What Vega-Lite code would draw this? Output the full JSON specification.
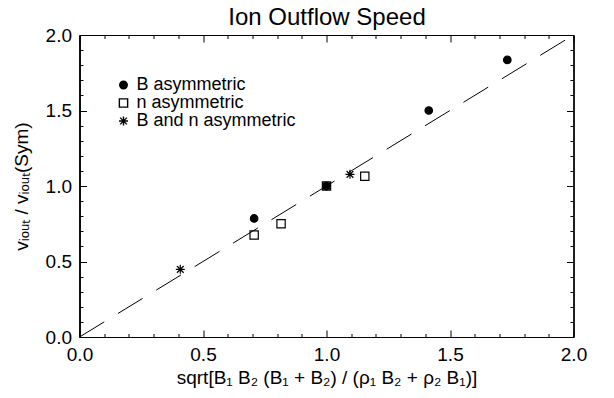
{
  "$schema": "https://vega.github.io/schema/vega-lite/v6.json",
  "width": 494,
  "height": 302,
  "autosize": {"type": "none"},
  "padding": {"left": 79.5, "top": 35, "right": 40.5, "bottom": 61},
  "background": "white",
  "datasets": {
    "points": [
      {"x": 0.707, "y": 0.785, "series": "B asymmetric"},
      {"x": 1.0, "y": 1.0, "series": "B asymmetric"},
      {"x": 1.414, "y": 1.5, "series": "B asymmetric"},
      {"x": 1.732, "y": 1.835, "series": "B asymmetric"},
      {"x": 0.707, "y": 0.675, "series": "n asymmetric"},
      {"x": 0.816, "y": 0.75, "series": "n asymmetric"},
      {"x": 1.0, "y": 1.0, "series": "n asymmetric"},
      {"x": 1.155, "y": 1.065, "series": "n asymmetric"},
      {"x": 0.408, "y": 0.448, "series": "B and n asymmetric"},
      {"x": 1.0, "y": 1.0, "series": "B and n asymmetric"},
      {"x": 1.095, "y": 1.077, "series": "B and n asymmetric"}
    ],
    "fit": [
      {"x": 0, "y": 0},
      {"x": 2, "y": 2}
    ]
  },
  "config": {
    "view": {"stroke": "black", "strokeWidth": 1},
    "axis": {
      "domainColor": "black",
      "tickColor": "black",
      "labelColor": "black",
      "titleColor": "black",
      "labelFont": "Liberation Sans",
      "titleFont": "Liberation Sans",
      "labelFontSize": 19,
      "titleFontSize": 19,
      "titleFontWeight": "normal",
      "grid": false
    }
  },
  "resolve": {"axis": {"x": "independent", "y": "independent"}},
  "layer": [
    {
      "data": {"name": "fit"},
      "mark": {"type": "line", "color": "black", "strokeWidth": 1, "strokeDash": [29, 16]},
      "encoding": {
        "x": {"field": "x", "type": "quantitative", "scale": {"domain": [0, 2], "nice": false, "zero": false},
          "axis": {"orient": "bottom", "values": [0, 0.5, 1, 1.5, 2], "format": ".1f", "ticks": false, "labelPadding": 8, "title": "sqrt[B₁ B₂ (B₁ + B₂) / (ρ₁ B₂ + ρ₂ B₁)]", "titlePadding": 4, "labelFlush": false}},
        "y": {"field": "y", "type": "quantitative", "scale": {"domain": [0, 2], "nice": false, "zero": false},
          "axis": {"orient": "left", "values": [0, 0.5, 1, 1.5, 2], "format": ".1f", "ticks": false, "labelPadding": 8, "title": "vᵢₒᵤₜ / vᵢₒᵤₜ(Sym)", "titlePadding": 14, "labelFlush": false}}
      }
    },
    {
      "data": {"name": "points"},
      "mark": {"type": "point", "filled": true, "stroke": "black", "strokeWidth": 1.2, "opacity": 1},
      "encoding": {
        "x": {"field": "x", "type": "quantitative",
          "axis": {"orient": "bottom", "values": [0, 0.5, 1, 1.5, 2], "labels": false, "tickSize": -7, "title": null, "domain": true}},
        "y": {"field": "y", "type": "quantitative",
          "axis": {"orient": "left", "values": [0, 0.5, 1, 1.5, 2], "labels": false, "tickSize": -7, "title": null, "domain": true}},
        "shape": {"field": "series", "type": "nominal", "title": null,
          "scale": {"domain": ["B asymmetric", "n asymmetric", "B and n asymmetric"], "range": ["circle", "square", "M-1,0L1,0M0,-1L0,1M-0.75,-0.75L0.75,0.75M-0.75,0.75L0.75,-0.75"]},
          "legend": {"orient": "none", "legendX": 35, "legendY": 41, "labelFont": "Liberation Sans", "labelFontSize": 18, "labelLimit": 400, "labelColor": "black", "symbolStrokeColor": "black", "symbolStrokeWidth": 1.4, "rowPadding": 0, "labelOffset": 4, "symbolOpacity": 1}},
        "fill": {"field": "series", "type": "nominal", "title": null,
          "scale": {"domain": ["B asymmetric", "n asymmetric", "B and n asymmetric"], "range": ["black", "transparent", "transparent"]}},
        "size": {"field": "series", "type": "nominal", "title": null,
          "scale": {"domain": ["B asymmetric", "n asymmetric", "B and n asymmetric"], "range": [56, 81, 72]}}
      }
    },
    {
      "data": {"name": "fit"},
      "mark": {"type": "point", "opacity": 0},
      "encoding": {
        "x": {"field": "x", "type": "quantitative",
          "axis": {"orient": "bottom", "values": [0.1, 0.2, 0.3, 0.4, 0.6, 0.7, 0.8, 0.9, 1.1, 1.2, 1.3, 1.4, 1.6, 1.7, 1.8, 1.9], "labels": false, "tickSize": -3.5, "title": null}},
        "y": {"field": "y", "type": "quantitative",
          "axis": {"orient": "left", "values": [0.1, 0.2, 0.3, 0.4, 0.6, 0.7, 0.8, 0.9, 1.1, 1.2, 1.3, 1.4, 1.6, 1.7, 1.8, 1.9], "labels": false, "tickSize": -3.5, "title": null}}
      }
    },
    {
      "data": {"name": "fit"},
      "mark": {"type": "point", "opacity": 0},
      "encoding": {
        "x": {"field": "x", "type": "quantitative",
          "axis": {"orient": "top", "values": [0, 0.5, 1, 1.5, 2], "labels": false, "tickSize": -7, "title": "Ion Outflow Speed", "titleFontSize": 24, "titlePadding": 10, "titleBaseline": "alphabetic"}},
        "y": {"field": "y", "type": "quantitative",
          "axis": {"orient": "right", "values": [0, 0.5, 1, 1.5, 2], "labels": false, "tickSize": -7, "title": null}}
      }
    },
    {
      "data": {"name": "fit"},
      "mark": {"type": "point", "opacity": 0},
      "encoding": {
        "x": {"field": "x", "type": "quantitative",
          "axis": {"orient": "top", "values": [0.1, 0.2, 0.3, 0.4, 0.6, 0.7, 0.8, 0.9, 1.1, 1.2, 1.3, 1.4, 1.6, 1.7, 1.8, 1.9], "labels": false, "tickSize": -3.5, "title": null}},
        "y": {"field": "y", "type": "quantitative",
          "axis": {"orient": "right", "values": [0.1, 0.2, 0.3, 0.4, 0.6, 0.7, 0.8, 0.9, 1.1, 1.2, 1.3, 1.4, 1.6, 1.7, 1.8, 1.9], "labels": false, "tickSize": -3.5, "title": null}}
      }
    }
  ]
}
